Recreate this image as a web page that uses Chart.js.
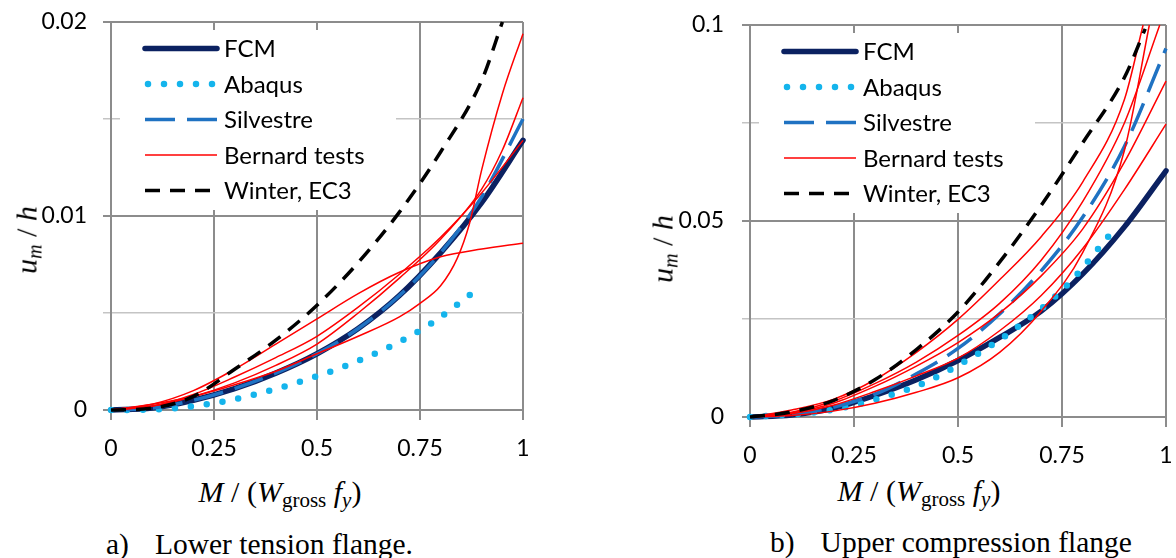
<!DOCTYPE html>
<html>
<head>
<meta charset="utf-8">
<script src="https://cdn.jsdelivr.net/npm/chart.js@4.4.1/dist/chart.umd.min.js"></script>
<style>
  body { margin: 0; background: #fff; width: 1176px; height: 558px; position: relative; overflow: hidden; }
  canvas { position: absolute; top: 0; }
  #chartA { left: 0; }
  #chartB { left: 590px; }
  .xt, .yt, .cap { position: absolute; white-space: nowrap; color: #000; font-family: 'Liberation Serif', 'Times New Roman', serif; line-height: 1; }
  .xt { font-size: 30px; transform: translate(-50%, -50%); }
  .xt sub { font-size: 21px; vertical-align: -5px; }
  .yt { font-size: 30px; transform: translate(-50%, -50%) rotate(-90deg); }
  .yt sub { font-size: 20px; vertical-align: -5px; }
  .cap { font-size: 29.5px; transform: translateY(-50%); }
  .cap span { margin-left: 26px; }
</style>
</head>
<body>
<canvas id="chartA" width="585" height="470"></canvas>
<canvas id="chartB" width="586" height="470"></canvas>

<div class="yt" style="left:28px; top:240px;"><i>u<sub>m</sub></i> / <i>h</i></div>
<div class="yt" style="left:664px; top:249px;"><i>u<sub>m</sub></i> / <i>h</i></div>
<div class="xt" style="left:280px; top:494px;"><i>M</i> / (<i>W</i><sub>gross</sub> <i>f<sub>y</sub></i>)</div>
<div class="xt" style="left:919px; top:493px;"><i>M</i> / (<i>W</i><sub>gross</sub> <i>f<sub>y</sub></i>)</div>
<div class="cap" style="left:106px; top:545px;">a)<span>Lower tension flange.</span></div>
<div class="cap" style="left:770px; top:543px;">b)<span>Upper compression flange</span></div>

<script>
// ---- a) lower tension flange ----
const xL = [0, 0.1, 0.2, 0.3, 0.4, 0.5, 0.6, 0.7, 0.8, 0.9, 1.0];
const fcmL = [0, 0.0001, 0.0005, 0.0011, 0.0019, 0.0029, 0.0042, 0.0059, 0.0081, 0.0107, 0.0139];
const silL = [0, 0.0001, 0.0005, 0.0011, 0.0019, 0.0029, 0.0042, 0.0059, 0.0081, 0.0110, 0.0150];
const abqLx = [0, 0.12, 0.235, 0.35, 0.46, 0.573, 0.68, 0.78, 0.875];
const abqL = [0, 0.00004, 0.0003, 0.0008, 0.00147, 0.0023, 0.0033, 0.0045, 0.0060];
const winLx = [0, 0.1, 0.2, 0.3, 0.4, 0.5, 0.6, 0.7, 0.8, 0.9, 0.95];
const winL = [0, 0.0001, 0.0007, 0.0021, 0.0036, 0.0054, 0.0076, 0.0102, 0.0133, 0.0170, 0.0200];
const benA = [0, 0.0003, 0.0010, 0.0021, 0.0034, 0.0047, 0.0060, 0.0071, 0.0079, 0.0083, 0.0086];
const benC = [0, 0.0002, 0.0008, 0.0017, 0.0027, 0.0038, 0.0053, 0.0070, 0.0089, 0.0112, 0.0139];
const benEx = [0, 0.1, 0.2, 0.3, 0.4, 0.5, 0.6, 0.7, 0.8, 0.9, 0.95, 1.0];
const benE = [0, 0.0002, 0.0007, 0.0014, 0.0023, 0.0034, 0.0050, 0.0068, 0.0088, 0.0114, 0.0134, 0.0161];
const benBx = [0, 0.1, 0.2, 0.3, 0.4, 0.5, 0.6, 0.7, 0.75, 0.8, 0.84, 0.87, 0.9, 0.95, 1.0];
const benB = [0, 0.0003, 0.0007, 0.0013, 0.0020, 0.0029, 0.0038, 0.0048, 0.0055, 0.0064, 0.0078, 0.0096, 0.0124, 0.0163, 0.0194];

// ---- b) upper compression flange ----
const xR = [0, 0.1, 0.2, 0.3, 0.4, 0.5, 0.6, 0.7, 0.8, 0.9, 1.0];
const fcmR = [0, 0.0005, 0.0022, 0.0055, 0.0095, 0.0144, 0.0203, 0.0270, 0.0365, 0.0485, 0.0628];
const silR = [0, 0.0006, 0.0025, 0.0058, 0.0110, 0.0175, 0.0263, 0.0373, 0.0510, 0.0690, 0.0940];
const abqRx = [0, 0.186, 0.3, 0.41, 0.514, 0.643, 0.762, 0.861];
const abqR = [0, 0.0016, 0.0044, 0.0083, 0.0140, 0.0229, 0.0336, 0.0460];
const winRx = [0, 0.1, 0.2, 0.3, 0.4, 0.5, 0.6, 0.7, 0.8, 0.9, 0.95];
const winR = [0, 0.0013, 0.0042, 0.0095, 0.0172, 0.0268, 0.0395, 0.0540, 0.0700, 0.0866, 0.0990];
const ben1x = [0, 0.1, 0.2, 0.3, 0.4, 0.5, 0.6, 0.7, 0.8, 0.9, 0.945];
const ben1 = [0, 0.0018, 0.0045, 0.0095, 0.0165, 0.0249, 0.0350, 0.0460, 0.0600, 0.0810, 0.1];
const ben2x = [0, 0.1, 0.2, 0.3, 0.4, 0.5, 0.6, 0.7, 0.8, 0.9, 0.985];
const ben2 = [0, 0.0012, 0.0040, 0.0085, 0.0140, 0.0208, 0.0290, 0.0400, 0.0550, 0.0750, 0.1];
const ben3 = [0, 0.0010, 0.0035, 0.0078, 0.0130, 0.0190, 0.0265, 0.0360, 0.0480, 0.0650, 0.0857];
const ben4 = [0, 0.0008, 0.0030, 0.0065, 0.0105, 0.0150, 0.0220, 0.0310, 0.0430, 0.0580, 0.0747];
const ben5x = [0, 0.1, 0.2, 0.3, 0.4, 0.5, 0.6, 0.7, 0.8, 0.9, 0.96];
const ben5 = [0, 0.0004, 0.0015, 0.0035, 0.0063, 0.0100, 0.0165, 0.0270, 0.0420, 0.0680, 0.1];

const xTicks = [0, 0.25, 0.5, 0.75, 1];
const legendNames = ['FCM', 'Abaqus', 'Silvestre', 'Bernard tests', 'Winter, EC3'];

const pts = (xs, ys) => xs.map((x, i) => ({ x: x, y: ys[i] }));

// line styles
const styleFcm = { label: 'FCM', borderColor: '#0b2161', borderWidth: 5.5, borderCapStyle: 'round', order: 5 };
const styleAbq = { label: 'Abaqus', borderColor: '#14b4ec', borderWidth: 6.5, borderDash: [0, 16], borderCapStyle: 'round', order: 4 };
const styleSil = { label: 'Silvestre', borderColor: '#1f72c2', borderWidth: 3.5, borderDash: [30, 12], order: 3 };
const styleBen = { label: 'Bernard tests', borderColor: '#ff0000', borderWidth: 1.5, order: 2 };
const styleWin = { label: 'Winter, EC3', borderColor: '#000000', borderWidth: 3.5, borderDash: [15, 10], order: 1 };

function ds(style, data) {
  return Object.assign({
    data: data,
    fill: false,
    clip: 8,
    pointRadius: 0,
    pointHoverRadius: 0,
    cubicInterpolationMode: 'monotone'
  }, style);
}

// legend drawn in a white box inside the plot, like the original
const boxLegend = {
  id: 'boxLegend',
  beforeDatasetsDraw(chart) {
    const { ctx, chartArea } = chart;
    const left = chartArea.left;
    ctx.save();
    ctx.fillStyle = '#ffffff';
    ctx.fillRect(left + 9, chartArea.top + 8, 276, 180);
    legendNames.forEach((name, i) => {
      const d = chart.data.datasets.find(s => s.label === name);
      const y = chartArea.top + 26.5 + i * 35.5;
      ctx.beginPath();
      ctx.strokeStyle = d.borderColor;
      ctx.lineWidth = d.borderWidth;
      ctx.setLineDash(d.borderDash || []);
      ctx.lineCap = d.borderCapStyle || 'butt';
      ctx.moveTo(left + 34 + (name === 'Abaqus' ? 3 : 0), y);
      ctx.lineTo(left + 106, y);
      ctx.stroke();
      ctx.setLineDash([]);
      ctx.fillStyle = '#000';
      ctx.font = '24px Lato';
      ctx.textBaseline = 'middle';
      ctx.textAlign = 'left';
      ctx.fillText(name, left + 113, y + 1);
    });
    ctx.restore();
  }
};

function makeChart(id, datasets, yMax, yStep, labelStep, yWidth, xHeight, padTop, padRight, yPad) {
  const isMajor = v => Math.abs(v / labelStep - Math.round(v / labelStep)) < 1e-6;
  return new Chart(document.getElementById(id), {
    type: 'line',
    data: { datasets: datasets },
    plugins: [boxLegend],
    options: {
      responsive: false,
      animation: false,
      devicePixelRatio: 1,
      layout: { padding: { top: padTop, right: padRight, left: 0, bottom: 0 } },
      plugins: { legend: { display: false }, tooltip: { enabled: false } },
      scales: {
        x: {
          type: 'linear',
          min: 0,
          max: 1,
          afterBuildTicks: scale => { scale.ticks = xTicks.map(v => ({ value: v })); },
          afterFit: scale => {
            scale.height = xHeight;
            scale.paddingLeft = 0;
            scale.paddingRight = 0;
          },
          grid: { color: '#8c8c8c', lineWidth: 2, tickLength: 10 },
          border: { color: '#8c8c8c', width: 2 },
          ticks: {
            color: '#000',
            padding: 15,
            maxRotation: 0,
            font: { family: 'Lato', size: 23 },
            callback: v => String(+v.toFixed(2))
          }
        },
        y: {
          type: 'linear',
          min: 0,
          max: yMax,
          afterFit: scale => {
            scale.width = yWidth;
            scale.paddingTop = 0;
            scale.paddingBottom = 0;
          },
          grid: {
            color: c => isMajor(c.tick.value) ? '#8c8c8c' : '#c4c4c4',
            lineWidth: c => isMajor(c.tick.value) ? 2 : 1.5,
            tickLength: 8
          },
          border: { color: '#8c8c8c', width: 2 },
          ticks: {
            stepSize: yStep,
            autoSkip: false,
            color: '#000',
            padding: yPad,
            font: { family: 'Lato', size: 23 },
            callback: v => isMajor(v) ? String(+v.toFixed(3)) : ''
          }
        }
      }
    }
  });
}

makeChart('chartA', [
  ds(styleFcm, pts(xL, fcmL)),
  ds(styleAbq, pts(abqLx, abqL)),
  ds(styleSil, pts(xL, silL)),
  ds(styleBen, pts(xL, benA)),
  ds(styleBen, pts(xL, benC)),
  ds(styleBen, pts(benEx, benE)),
  ds(styleBen, pts(benBx, benB)),
  ds(styleWin, pts(winLx, winL))
], 0.02, 0.005, 0.01, 111, 60, 22, 62, 16);

makeChart('chartB', [
  ds(styleFcm, pts(xR, fcmR)),
  ds(styleAbq, pts(abqRx, abqR)),
  ds(styleSil, pts(xR, silR)),
  ds(styleBen, pts(ben1x, ben1)),
  ds(styleBen, pts(ben2x, ben2)),
  ds(styleBen, pts(xR, ben3)),
  ds(styleBen, pts(xR, ben4)),
  ds(styleBen, pts(ben5x, ben5)),
  ds(styleWin, pts(winRx, winR))
], 0.1, 0.025, 0.05, 160, 53, 25, 10, 18);
</script>
</body>
</html>
